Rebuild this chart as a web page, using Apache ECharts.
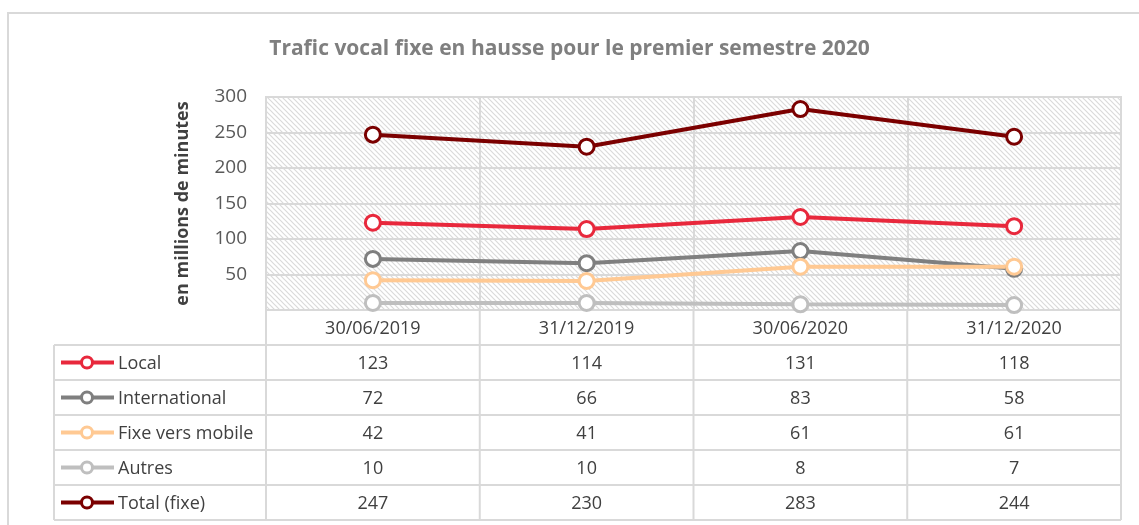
<!DOCTYPE html>
<html>
<head>
<meta charset="utf-8">
<script src="https://cdn.jsdelivr.net/npm/echarts@6/dist/echarts.min.js"></script>
<style>
  html, body { margin: 0; padding: 0; background: #fff; }
  #chart { width: 1139px; height: 525px; }
</style>
</head>
<body>
<div id="chart"></div>
<script>
// data (table gives exact values)
const categories = ['30/06/2019', '31/12/2019', '30/06/2020', '31/12/2020'];
const seriesNames = ['Local', 'International', 'Fixe vers mobile', 'Autres', 'Total (fixe)'];
const local = [123, 114, 131, 118];
const international = [72, 66, 83, 58];
const fixeMobile = [42, 41, 61, 61];
const autres = [10, 10, 8, 7];
const total = [247, 230, 283, 244];
const yTicks = { min: 0, max: 300, interval: 50 };

const seriesValues = [local, international, fixeMobile, autres, total];
const seriesColors = ['#e8283c', '#7f7f7f', '#ffc993', '#bfbfbf', '#7b0000'];

// layout
const W = 1139, H = 525;
const plotLeft = 266, plotRight = 1121, plotTop = 97, plotBottom = 310;
const rowH = 35;
const tableLeft = 54;
const border = '#d9d9d9';
const textColor = '#404040';
const font = '"Open Sans", "Noto Sans", sans-serif';
const cellFont = '18px ' + font;

// hatch pattern for the plot background
function makeHatch() {
  const s = 5;
  const c = document.createElement('canvas');
  c.width = s; c.height = s;
  const ctx = c.getContext('2d');
  ctx.fillStyle = '#ffffff';
  ctx.fillRect(0, 0, s, s);
  ctx.strokeStyle = '#dadada';
  ctx.lineWidth = 1.2;
  ctx.beginPath();
  ctx.moveTo(-1, -1); ctx.lineTo(s + 1, s + 1);
  ctx.moveTo(-1, s - 1); ctx.lineTo(1, s + 1);
  ctx.moveTo(s - 1, -1); ctx.lineTo(s + 1, 1);
  ctx.stroke();
  return c;
}

const chart = echarts.init(document.getElementById('chart'), null, { renderer: 'canvas' });

const catW = (plotRight - plotLeft) / categories.length;
const graphics = [];

// outer frame
graphics.push({
  type: 'rect', silent: true,
  shape: { x: 8, y: 13, width: W + 20, height: H + 20 },
  style: { fill: 'none', stroke: border, lineWidth: 2 }
});

// table grid lines
const tableBottom = plotBottom + rowH * (seriesNames.length + 1);
graphics.push({
  type: 'line', silent: true,
  shape: { x1: plotLeft, y1: plotBottom, x2: plotRight, y2: plotBottom },
  style: { stroke: border, lineWidth: 2 }
});
for (let r = 1; r <= seriesNames.length + 1; r++) {
  const y = plotBottom + r * rowH;
  graphics.push({
    type: 'line', silent: true,
    shape: { x1: tableLeft, y1: y, x2: plotRight, y2: y },
    style: { stroke: border, lineWidth: 2 }
  });
}
graphics.push({
  type: 'line', silent: true,
  shape: { x1: tableLeft, y1: plotBottom + rowH, x2: tableLeft, y2: tableBottom },
  style: { stroke: border, lineWidth: 2 }
});
for (let c = 0; c <= categories.length; c++) {
  const x = plotLeft + c * catW;
  graphics.push({
    type: 'line', silent: true,
    shape: { x1: x, y1: plotBottom, x2: x, y2: tableBottom },
    style: { stroke: border, lineWidth: 2 }
  });
}

// header + values
categories.forEach((cat, c) => {
  const cx = plotLeft + (c + 0.5) * catW;
  graphics.push({
    type: 'text', silent: true,
    style: {
      x: cx, y: plotBottom + rowH / 2 + 1, text: cat,
      align: 'center', verticalAlign: 'middle',
      fill: textColor, font: cellFont
    }
  });
  seriesValues.forEach((vals, r) => {
    graphics.push({
      type: 'text', silent: true,
      style: {
        x: cx, y: plotBottom + (r + 1.5) * rowH + 1, text: String(vals[c]),
        align: 'center', verticalAlign: 'middle',
        fill: textColor, font: cellFont
      }
    });
  });
});

// legend keys in the table
seriesNames.forEach((name, r) => {
  const cy = plotBottom + (r + 1.5) * rowH;
  graphics.push({
    type: 'line', silent: true,
    shape: { x1: 61, y1: cy, x2: 114, y2: cy },
    style: { stroke: seriesColors[r], lineWidth: 4 }
  });
  graphics.push({
    type: 'circle', silent: true,
    shape: { cx: 87, cy: cy, r: 5.5 },
    style: { fill: '#fff', stroke: seriesColors[r], lineWidth: 3 }
  });
  graphics.push({
    type: 'text', silent: true,
    style: {
      x: 118, y: cy + 1, text: name,
      align: 'left', verticalAlign: 'middle',
      fill: textColor, font: cellFont
    }
  });
});

const option = {
  backgroundColor: '#ffffff',
  animation: false,
  title: {
    text: 'Trafic vocal fixe en hausse pour le premier semestre 2020',
    left: 'center',
    top: 34,
    textStyle: {
      color: '#7f7f7f',
      fontSize: 21,
      fontWeight: 'bold',
      fontFamily: '"Open Sans", sans-serif'
    }
  },
  grid: {
    left: plotLeft,
    right: W - plotRight,
    top: plotTop,
    bottom: H - plotBottom,
    show: true,
    backgroundColor: { image: makeHatch(), repeat: 'repeat' },
    borderColor: border,
    borderWidth: 2
  },
  xAxis: {
    type: 'category',
    data: categories,
    boundaryGap: true,
    axisLabel: { show: false },
    axisTick: { show: false },
    axisLine: { show: false },
    splitLine: { show: true, lineStyle: { color: border, width: 2 } }
  },
  yAxis: {
    type: 'value',
    min: yTicks.min,
    max: yTicks.max,
    interval: yTicks.interval,
    name: 'en millions de minutes',
    nameLocation: 'middle',
    nameGap: 74,
    nameRotate: 90,
    nameTextStyle: {
      color: textColor,
      fontSize: 18,
      fontWeight: 'bold',
      fontFamily: font
    },
    axisLabel: {
      showMinLabel: false,
      color: '#595959',
      fontSize: 19,
      margin: 19,
      fontFamily: font
    },
    axisLine: { show: false },
    axisTick: { show: false },
    splitLine: { lineStyle: { color: border, width: 2 } }
  },
  series: seriesNames.map((name, i) => ({
    name,
    type: 'line',
    data: seriesValues[i],
    symbol: 'circle',
    symbolSize: 15,
    lineStyle: { width: 4, color: seriesColors[i] },
    itemStyle: { color: '#fff', borderColor: seriesColors[i], borderWidth: 3 }
  })),
  graphic: graphics
};

chart.setOption(option);
</script>
</body>
</html>
